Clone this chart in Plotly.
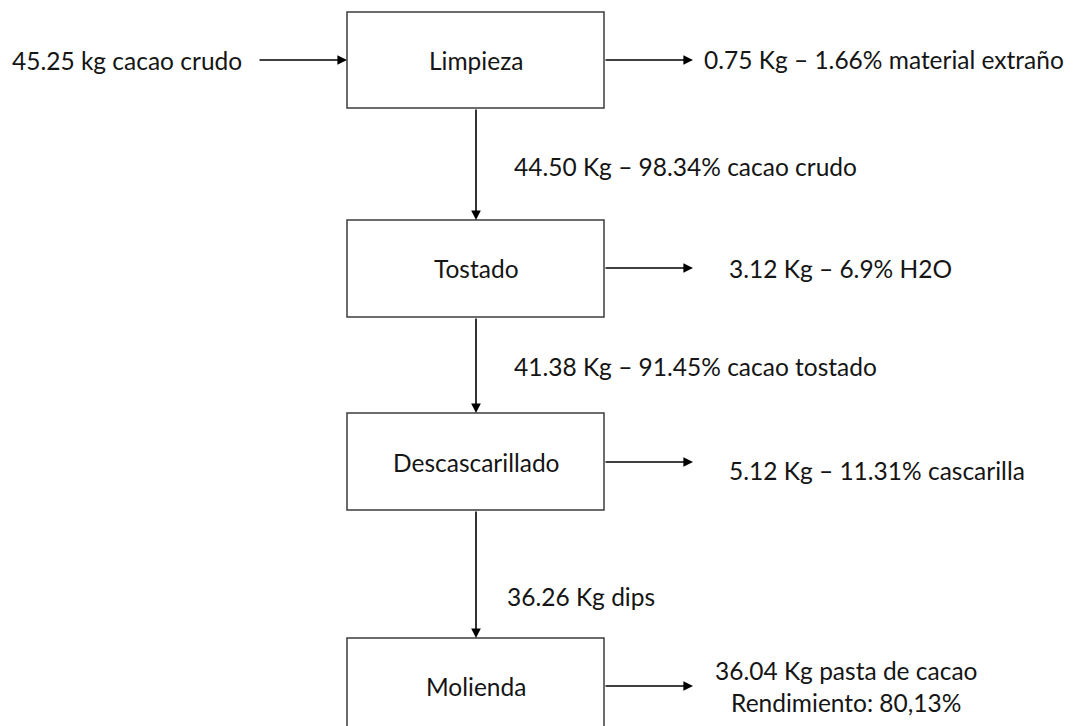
import plotly.graph_objects as go

# process steps and mass balance labels
steps = ["Limpieza", "Tostado", "Descascarillado", "Molienda"]
feed_label = "45.25 kg cacao crudo"
side_outputs = [
    "0.75 Kg – 1.66% material extraño",
    "3.12 Kg – 6.9% H2O",
    "5.12 Kg – 11.31% cascarilla",
    "36.04 Kg pasta de cacao<br>Rendimiento: 80,13%",
]
flow_labels = [
    "44.50 Kg – 98.34% cacao crudo",
    "41.38 Kg – 91.45% cacao tostado",
    "36.26 Kg dips",
]

# layout (pixel-like coordinates, y grows downward)
W, H = 1090, 726
OFF = 8  # page body margin
box_x0, box_x1 = 347, 604
box_tops = [12, 220, 413, 638]
box_bottoms = [108, 317, 510, 745]
box_mid = [60, 268, 462, 686]
cx = 476
side_arrow_end = 693
side_text_x = [702, 727, 727, 846]
flow_text_x = [512, 512, 505]
flow_y = [166, 366, 596]

FONT = "Lato"
FS = 24.5
TXT = "#151515"
LINE = "#3c3c3c"

fig = go.Figure()
annotations = []
shapes = []


def arrow(x0, y0, x1, y1):
    annotations.append(dict(
        x=x1, y=y1, ax=x0, ay=y0, xref="x", yref="y", axref="x", ayref="y",
        text="", showarrow=True, arrowhead=2, arrowsize=1.2, arrowwidth=1.6,
        arrowcolor="#000000", standoff=0, startstandoff=0,
    ))


def label(x, y, text, anchor="left", align="left"):
    annotations.append(dict(
        x=x, y=y, xref="x", yref="y", text=text, showarrow=False,
        xanchor=anchor, yanchor="middle", align=align,
        font=dict(family=FONT, size=FS, color=TXT),
    ))


for i, name in enumerate(steps):
    shapes.append(dict(type="rect", xref="x", yref="y", x0=box_x0, x1=box_x1,
                       y0=box_tops[i], y1=box_bottoms[i],
                       line=dict(color=LINE, width=1.5),
                       fillcolor="white", layer="below"))
    label(cx, box_mid[i], name, anchor="center", align="center")
    # side stream arrow and label
    arrow(box_x1, box_mid[i], side_arrow_end, box_mid[i])
    if i == len(steps) - 1:
        label(side_text_x[i], box_mid[i], side_outputs[i], anchor="center", align="center")
    elif i == 0:
        label(side_text_x[i], box_mid[i] - 1, side_outputs[i])
    else:
        label(side_text_x[i], box_mid[i] + (0 if i == 1 else 8), side_outputs[i])

# main flow arrows between steps
for i, txt in enumerate(flow_labels):
    arrow(cx, box_bottoms[i], cx, box_tops[i + 1])
    label(flow_text_x[i], flow_y[i], txt)

# feed arrow
label(10, 60, feed_label)
arrow(258, box_mid[0], box_x0, box_mid[0])

fig.update_layout(
    width=W, height=H,
    margin=dict(l=0, r=0, t=0, b=0),
    paper_bgcolor="white", plot_bgcolor="white",
    xaxis=dict(range=[OFF, W + OFF], visible=False, fixedrange=True),
    yaxis=dict(range=[H + OFF, OFF], visible=False, fixedrange=True),
    shapes=shapes, annotations=annotations, showlegend=False,
)
fig.write_html("out.html")
